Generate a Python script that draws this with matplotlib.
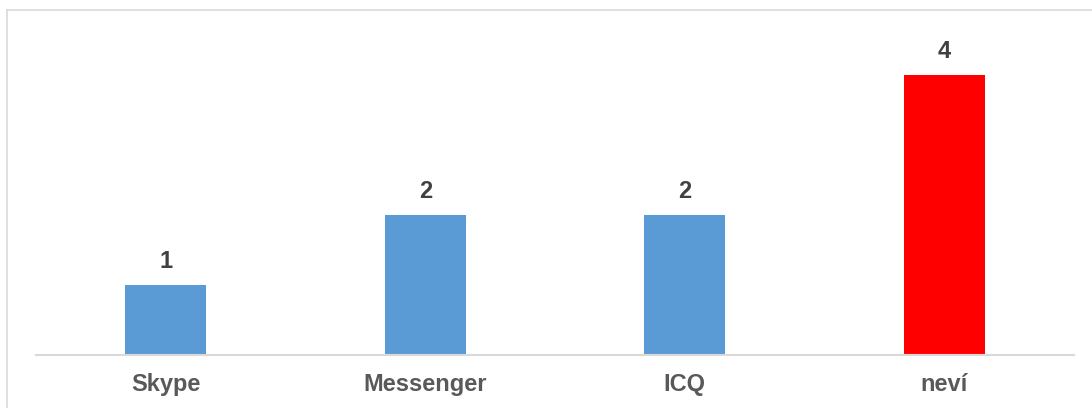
import matplotlib.pyplot as plt
from matplotlib.lines import Line2D

categories = ['Skype', 'Messenger', 'ICQ', 'neví']
values = [1, 2, 2, 4]
colors = ['#5B9BD5', '#5B9BD5', '#5B9BD5', '#FF0000']

plt.rcParams['font.family'] = ['Liberation Sans', 'DejaVu Sans']

fig = plt.figure(figsize=(10.92, 4.08), dpi=100)
ax = fig.add_axes([36 / 1092, 1 - 355 / 408, 1038 / 1092, 350 / 408])

x = range(len(categories))
bars = ax.bar(x, values, width=0.314, color=colors)
ax.bar_label(bars, labels=[str(v) for v in values], padding=9,
             fontsize=17, fontweight='bold', color='#404040')

ax.set_xlim(-0.5, len(categories) - 0.5)
ax.set_ylim(0, 5)
ax.set_xticks(list(x))
ax.set_xticklabels(categories, fontsize=17, fontweight='bold', color='#595959')
ax.tick_params(axis='x', length=0, pad=13)
ax.set_yticks([])
for side in ['top', 'right', 'left']:
    ax.spines[side].set_visible(False)
ax.spines['bottom'].set_color('#d9d9d9')
ax.spines['bottom'].set_linewidth(1.5)

# chart frame
fx, fy = 7 / 1092, 1 - 10 / 408
fig.add_artist(Line2D([fx, fx], [0, fy], color='#d9d9d9', lw=1.2))
fig.add_artist(Line2D([fx, 1], [fy, fy], color='#d9d9d9', lw=1.2))

fig.savefig('out.png', dpi=100)
